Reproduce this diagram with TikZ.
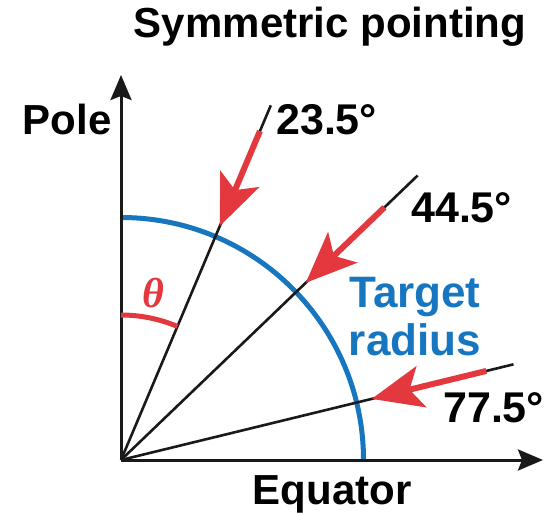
\documentclass[tikz,border=0pt]{standalone}
\usepackage{fontspec}
\setmainfont{Liberation Sans}
\newfontfamily\thetafont{Liberation Serif}
\usetikzlibrary{arrows.meta,calc}
\definecolor{tblue}{RGB}{22,118,192}
\definecolor{tred}{RGB}{226,56,62}
\begin{document}
\begin{tikzpicture}[x=1pt,y=1pt,
  lbl/.style={inner sep=0pt,font=\bfseries\fontsize{42}{48}\selectfont},
  deg/.style={inner sep=0pt,font=\bfseries\fontsize{43}{48}\selectfont},
  axis/.style={line width=3pt,draw=black!90,-{Stealth[length=25pt,width=21pt,inset=4pt]}},
  ray/.style={line width=2.6pt,draw=black!90},
  pointer/.style={line width=6pt,draw=tred,-{Stealth[length=51pt,width=42pt,inset=12pt]}}]
\useasboundingbox (0,0) rectangle (552,515);
\coordinate (O) at (121,55);
\coordinate (ytip) at (121,440);
\coordinate (xtip) at (543,55);
% target radius circle
\draw[tblue,line width=5pt] ($(O)+(0:242.5)$) arc[start angle=0,end angle=90,radius=242.5];
% rays
\coordinate (e1) at ($(O)+(67.1:385)$);
\coordinate (e2) at ($(O)+(43.8:411)$);
\coordinate (e3) at ($(O)+(13.7:404)$);
\draw[ray] (O) -- (e1);
\draw[ray] (O) -- (e2);
\draw[ray] (O) -- (e3);
% axes
\draw[axis] (O) -- (ytip);
\draw[axis] (O) -- (xtip);
% theta arc
\draw[tred,line width=5pt] ($(O)+(90:145)$) arc[start angle=90,end angle=67.1,radius=145];
% red pointers
\coordinate (s1) at ($(O)+(67.1:357)$);
\coordinate (t1) at ($(O)+(67.1:254)$);
\coordinate (s2) at ($(O)+(43.8:365)$);
\coordinate (t2) at ($(O)+(43.8:256)$);
\coordinate (s3) at ($(O)+(13.7:376)$);
\coordinate (t3) at ($(O)+(13.7:258)$);
\draw[pointer] (s1) -- (t1);
\draw[pointer] (s2) -- (t2);
\draw[pointer] (s3) -- (t3);
% labels
\node[lbl,anchor=base] (title) at (330,477) {Symmetric pointing};
\node[lbl,anchor=base] (pole) at (67,380) {Pole};
\node[lbl,anchor=base] (equator) at (332,11) {Equator};
\node[deg,anchor=base west] (a1) at (276,380) {23.5°};
\node[deg,anchor=base west] (a2) at (411,292) {44.5°};
\node[deg,anchor=base west] (a3) at (443,93) {77.5°};
\node[inner sep=0pt,anchor=base,text=tblue,align=center,font=\bfseries\fontsize{44}{48}\selectfont] (target) at (415,160) {Target\\radius};
\node[inner sep=0pt,text=tred,font=\thetafont\bfseries\itshape\fontsize{42}{44}\selectfont] (theta) at (153,222) {θ};
\end{tikzpicture}
\end{document}
